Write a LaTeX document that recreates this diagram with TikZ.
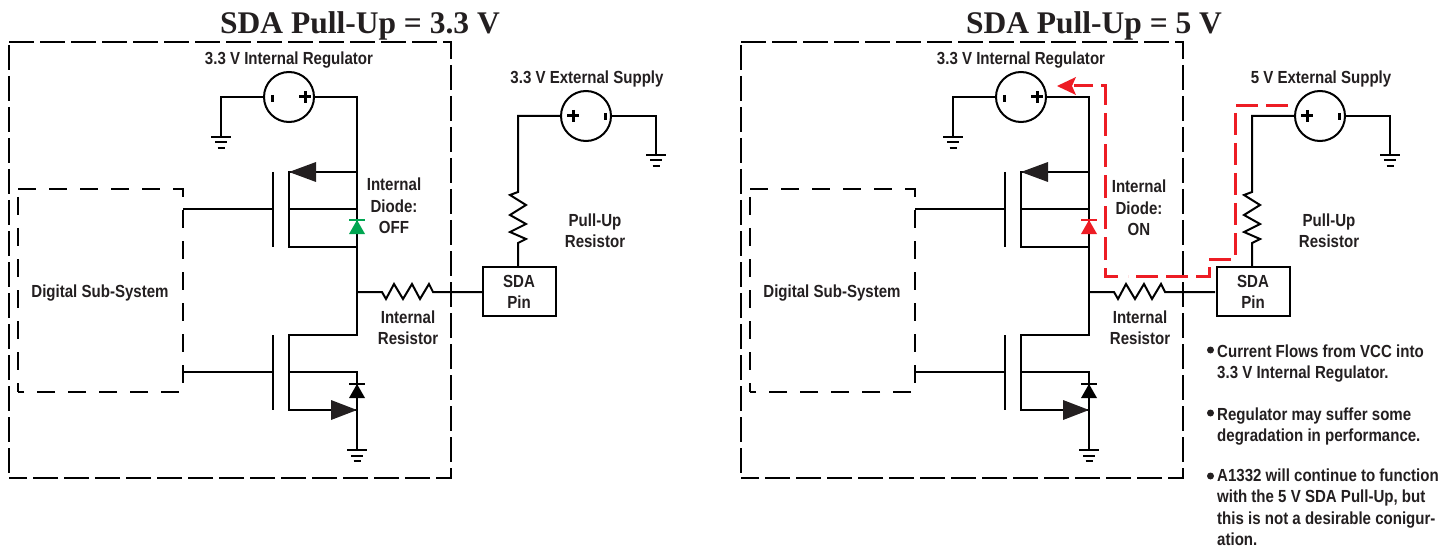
\documentclass[tikz,border=0pt]{standalone}
\usepackage{fontspec}
\usepackage{xcolor}
\newfontfamily\lblfont[FakeStretch=0.86]{Liberation Sans}
\newfontfamily\ttlfont{Liberation Serif}
\definecolor{ink}{RGB}{35,31,32}
\definecolor{diodeoff}{RGB}{0,166,81}
\definecolor{diodeon}{RGB}{237,28,36}
\tikzset{
  wire/.style = {draw=black, line width=2pt, line join=miter},
  flow/.style = {draw=diodeon, line width=3pt},
  lbl/.style = {text=ink, align=center, font=\lblfont\bfseries\fontsize{17.5}{21.4}\selectfont, inner sep=0pt},
  note/.style = {lbl, align=left, anchor=north west},
  ttl/.style = {text=ink, font=\ttlfont\bfseries\fontsize{31.5}{32}\selectfont, inner sep=0pt},
  supply/.style = {wire, circle, minimum size=50pt, inner sep=0pt, fill=white},
  pinbox/.style = {wire, minimum width=73pt, minimum height=49pt, inner sep=0pt},
  dot/.style = {circle, fill=ink, minimum size=7pt, inner sep=0pt},
  gnd/.pic = {
    \draw[line width=2pt] (-10,0) -- (10,0);
    \draw[line width=2pt] (-6,5.5) -- (6,5.5);
    \draw[line width=2pt] (-3.5,11) -- (3.5,11);
  }
}
\begin{document}
\begin{tikzpicture}[x=1pt, y=-1pt]
\useasboundingbox (0,0) rectangle (1456,548);

\foreach \p/\dx/\ex/\dcol/\dstate/\dy/\dl/\ext in {l/0/0/diodeoff/OFF/0/394/3.3 V, r/732/734/diodeon/ON/2/407/5 V}{
  \begin{scope}[xshift=\dx pt]
  % outer frames
  \draw[wire, dash pattern=on 25pt off 6pt] (9,42) -- (451,42) -- (451,478) -- (9,478);
  \draw[wire, dash pattern=on 25pt off 6pt] (9,45) -- (9,478);
  \draw[wire, dash pattern=on 18pt off 13pt] (18,189) -- (183,189) -- (183,392) -- (18,392);
  \draw[wire, dash pattern=on 18pt off 13pt] (18,197) -- (18,392);
  \node[lbl] (digital\p) at (100,293.5) {Digital Sub-System};

  % regulator
  \node[lbl] (reglbl\p) at (289,60.5) {3.3 V Internal Regulator};
  \node[supply] (reg\p) at (289,97) {};
  \draw[black, line width=3pt] (272,95) -- (272,102);
  \draw[black, line width=3pt] (299,97) -- (311,97) (305,91) -- (305,103);
  \coordinate (reggnd\p) at (221,137);
  \coordinate (rail\p) at (357,97);
  \draw[wire] (reg\p) -- (reg\p -| reggnd\p) -- (reggnd\p);
  \pic at (reggnd\p) {gnd};
  \draw[wire] (reg\p) -- (rail\p) -- (357,335) -- (289,335) -- (289,410) -- (357,410);

  % high side fet
  \coordinate (gatehi\p) at (183,209);
  \draw[wire] (gatehi\p) -- (273,209);
  \draw[wire] (273,172) -- (273,247);
  \draw[wire] (357,172) -- (289,172) -- (289,247) -- (357,247);
  \draw[wire] (289,209) -- (357,209);
  \fill[ink] (289,172) -- (316,162) -- (316,182) -- cycle;
  \fill[\dcol] (357,220) -- (365,234) -- (349,234) -- cycle;
  \draw[\dcol, line width=2pt] (349,220) -- (365,220);
  \node[lbl] (diodelbl\p) at (\dl,{206+\dy}) {Internal\\Diode:\\\dstate};

  % low side fet
  \coordinate (gatelo\p) at (183,372);
  \draw[wire] (gatelo\p) -- (273,372);
  \draw[wire] (273,335) -- (273,410);
  \draw[wire] (289,372) -- (357,372) -- (357,450);
  \fill[ink] (357,410) -- (331,400) -- (331,420) -- cycle;
  \fill[black] (357,384) -- (365,398) -- (349,398) -- cycle;
  \draw[black, line width=2pt] (349,384) -- (365,384);
  \coordinate (lognd\p) at (357,450);
  \pic at (lognd\p) {gnd};

  % internal resistor
  \coordinate (tap\p) at (357,292);
  \node[lbl] (intlbl\p) at (408,328) {Internal\\Resistor};
  \draw[wire] (tap\p) -- (382,292) -- ++(4,7) -- ++(8,-15) -- ++(9,15) -- ++(9,-15) -- ++(8,15) -- ++(9,-15) -- ++(4,8) -- (483,292);
  \end{scope}

  \begin{scope}[xshift=\ex pt]
  \node[ttl] (title\p) at (360,26) {SDA Pull-Up = \ext};
  % pin, pull-up, external supply
  \node[pinbox, xshift=-1pt] (pin\p) at (520.5,291.5) {};
  \node[lbl] (pinlbl\p) at (519,292) {SDA\\Pin};
  \node[lbl] (extlbl\p) at (587,78.5) {\ext{} External Supply};
  \node[supply] (ext\p) at (586,116) {};
  \coordinate (corner\p) at (518,116);
  \coordinate (extgnd\p) at (656,155);
  \draw[wire] (ext\p) -- (corner\p) -- (518,192) -- ++(-8,3) -- ++(16,10) -- ++(-16,10) -- ++(16,9) -- ++(-16,8) -- ++(16,7) -- ++(-8,4) -- (518,267);
  \draw[wire] (ext\p) -- (ext\p -| extgnd\p) -- (extgnd\p);
  \pic at (extgnd\p) {gnd};
  \draw[black, line width=3pt] (567,116) -- (579,116) (573,110) -- (573,122);
  \draw[black, line width=3pt] (605,113) -- (605,120);
  \node[lbl] (pulllbl\p) at (595,230.5) {Pull-Up\\Resistor};
  \end{scope}
}

% red current path
\coordinate (red1) at (1288,106);
\coordinate (red2) at (1057,86);
\draw[flow, dash pattern=on 22pt off 8pt] (red1) -- (1235,106) -- (1235,259) -- (1209,259) -- (1209,276) -- (1128,276);
\draw[flow] (1118,276) -- (1105,276) -- (1105,268);
\draw[flow, dash pattern=on 23pt off 8pt] (1105,260) -- (1105,86) -- (1101,86);
\draw[flow] (1093,86) -- (1074,86);
\fill[diodeon] (red2) -- (1076,77) -- (1072,86) -- (1076,95) -- cycle;

% notes
\node[dot] (dota) at (1210.5,350) {};
\node[note] (notea) at (1217,344.5) {Current Flows from VCC into\\3.3 V Internal Regulator.};
\node[dot] (dotb) at (1210.5,413) {};
\node[note] (noteb) at (1217,407.5) {Regulator may suffer some\\degradation in performance.};
\node[dot] (dotc) at (1210.5,476) {};
\node[note] (notec) at (1217,468.5) {A1332 will continue to function\\with the 5 V SDA Pull-Up, but\\this is not a desirable conigur-\\ation.};
\end{tikzpicture}
\end{document}
